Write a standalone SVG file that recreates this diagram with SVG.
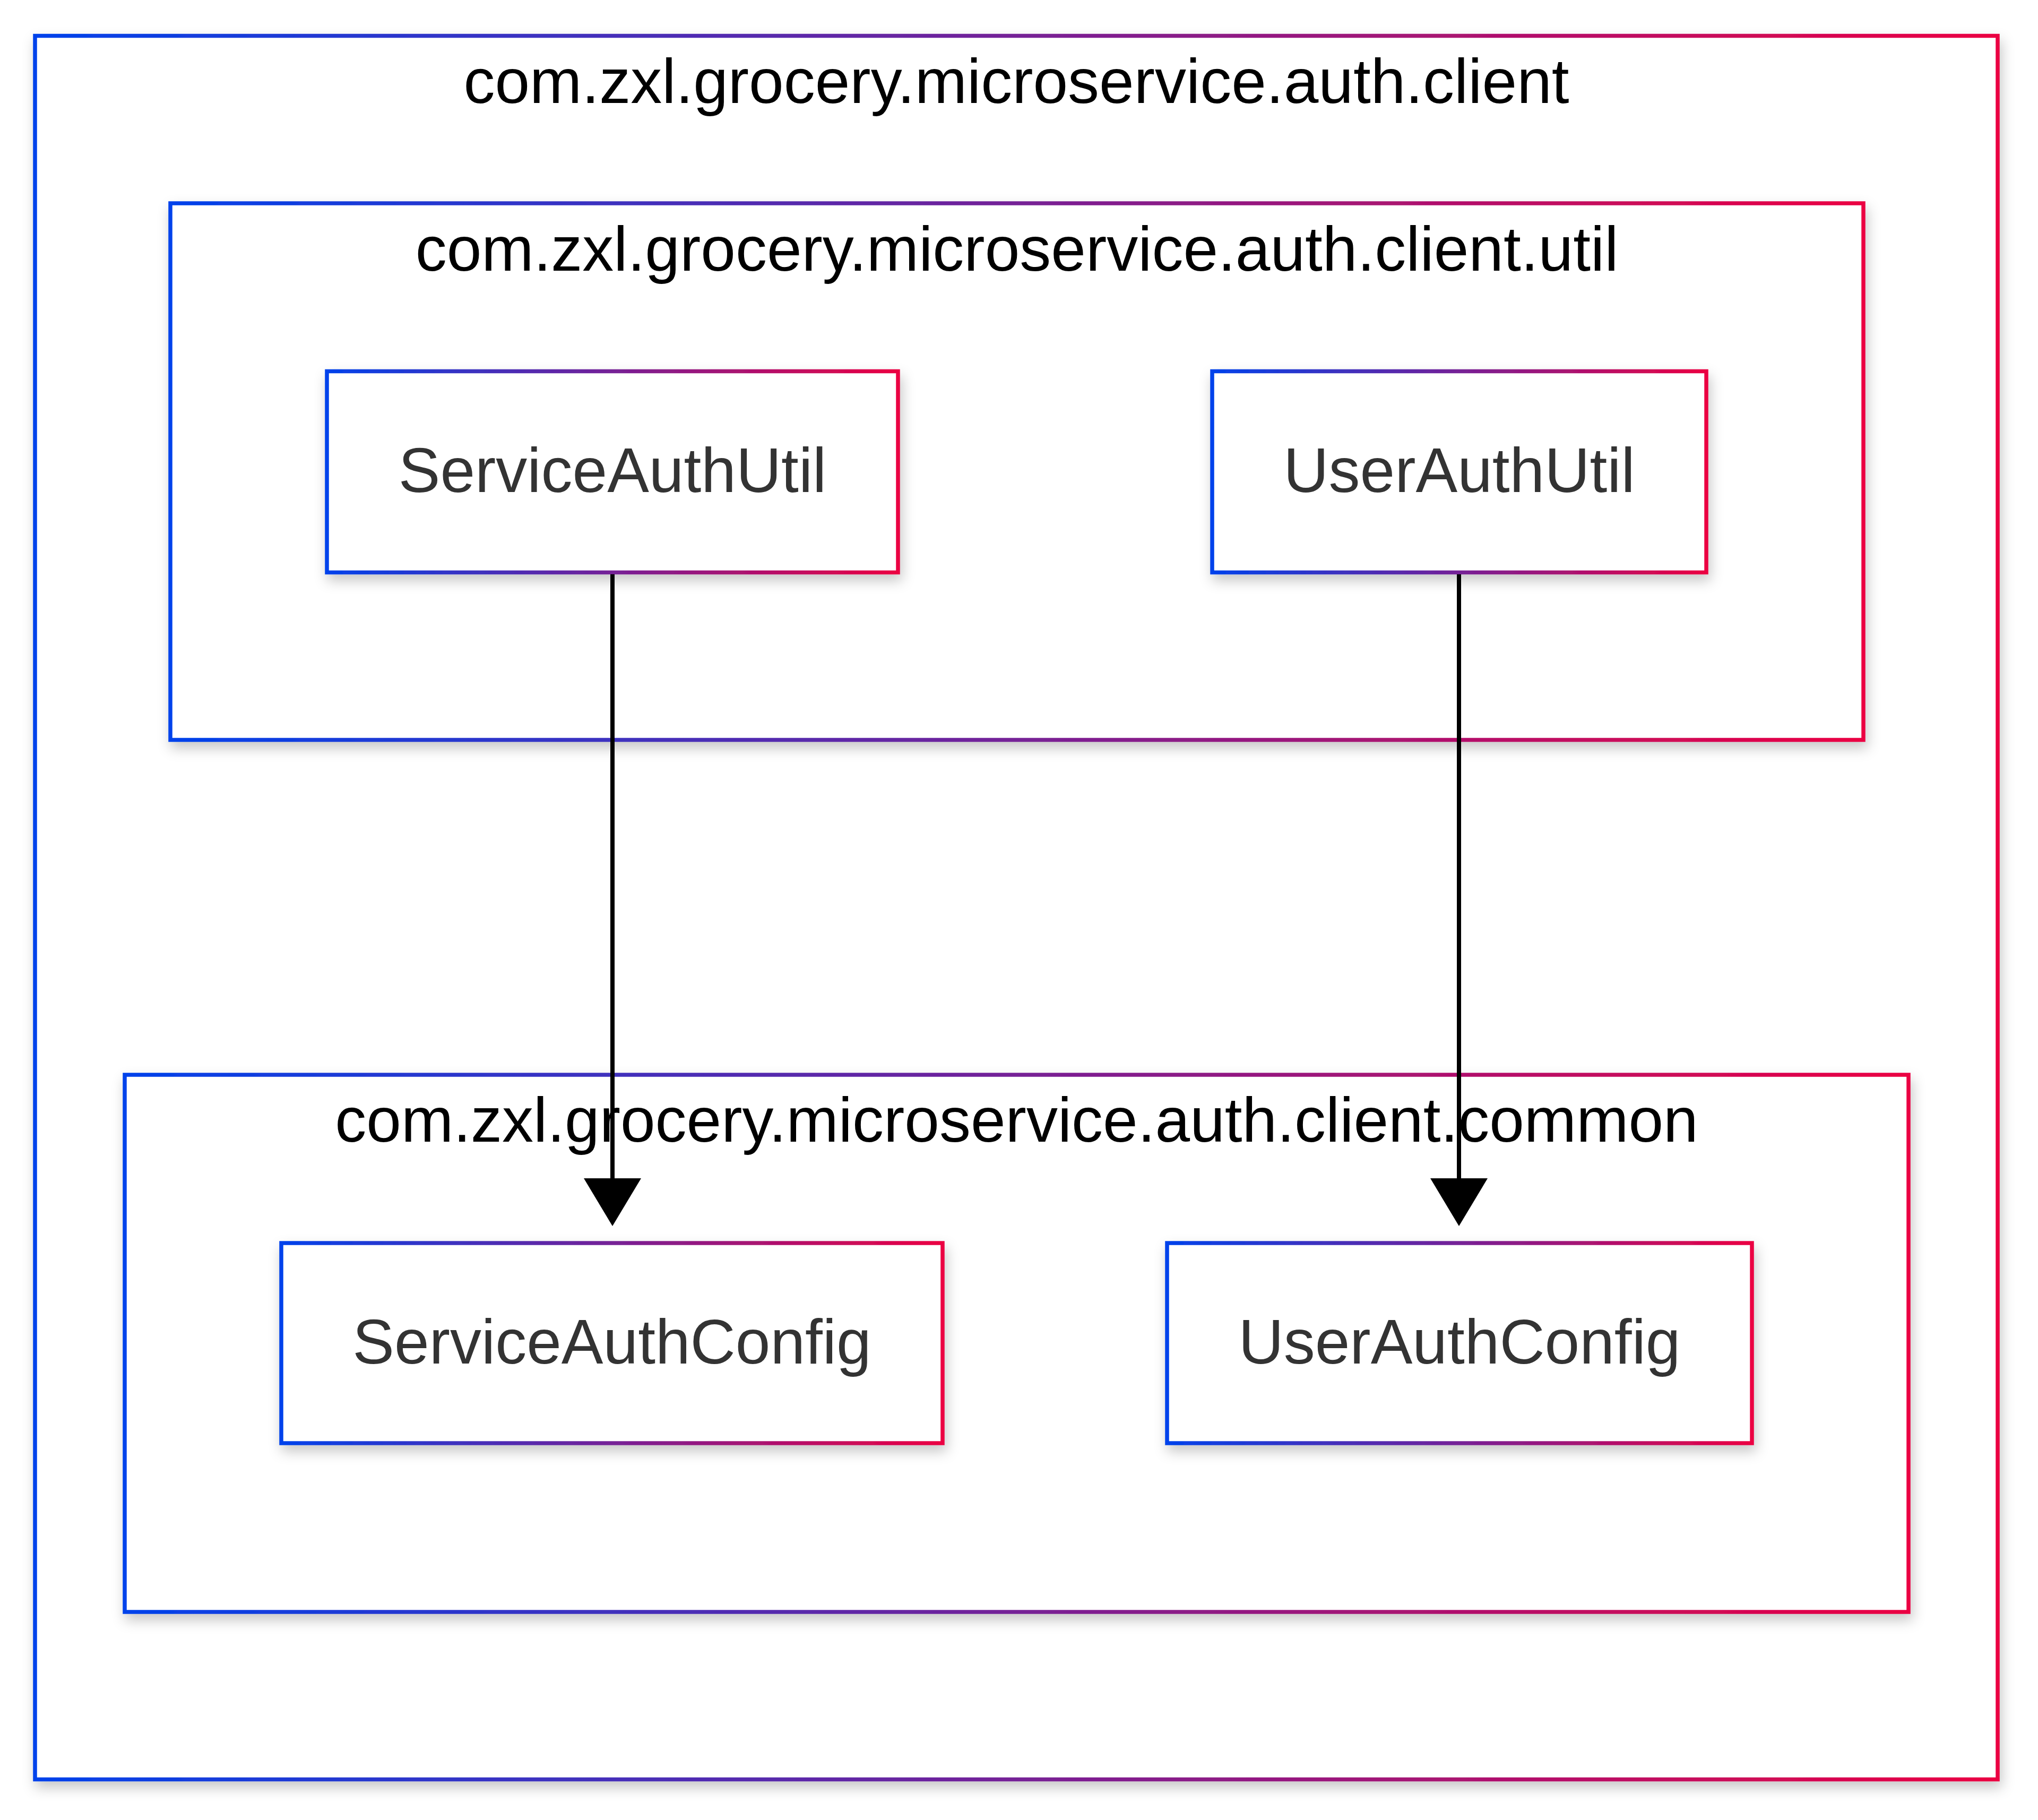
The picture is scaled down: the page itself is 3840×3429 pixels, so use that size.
<svg xmlns="http://www.w3.org/2000/svg" width="3840" height="3429" viewBox="0 0 3840 3429">
<defs>
<linearGradient id="grad" x1="0" y1="0" x2="1" y2="0">
<stop offset="0" stop-color="#0042eb"/>
<stop offset="1" stop-color="#eb0042"/>
</linearGradient>
<filter id="shadow" x="-10%" y="-10%" width="125%" height="135%">
<feDropShadow dx="4" dy="12" stdDeviation="12" flood-color="#000" flood-opacity="0.22"/>
</filter>
<marker id="arrow" markerUnits="userSpaceOnUse" viewBox="0 0 90 108" refX="0" refY="54" markerWidth="90" markerHeight="108" orient="auto">
<path d="M0,0 L90,54 L0,108 Z" fill="#000"/>
</marker>
</defs>
<style>
.box{fill:#fff;stroke:url(#grad);stroke-width:7.5;filter:url(#shadow);}
.ctitle{font-family:"Liberation Sans",Arial,Helvetica,sans-serif;font-size:118px;fill:#000;text-anchor:middle;}
.nlabel{font-family:"Liberation Sans",Arial,Helvetica,sans-serif;font-size:118px;fill:#333;text-anchor:middle;}
.edge{stroke:#000;stroke-width:8;fill:none;}
</style>
<rect width="3840" height="3429" fill="#fff"/>
<g id="cluster-client">
<rect class="box" x="66" y="67.5" width="3698" height="3285"/>
<text class="ctitle" x="1915" y="194">com.zxl.grocery.microservice.auth.client</text>
</g>
<g id="cluster-util">
<rect class="box" x="321" y="383" width="3190" height="1011"/>
<text class="ctitle" x="1916" y="510">com.zxl.grocery.microservice.auth.client.util</text>
</g>
<g id="cluster-common">
<rect class="box" x="235" y="2025" width="3361" height="1012"/>
<text class="ctitle" x="1915.5" y="2151">com.zxl.grocery.microservice.auth.client.common</text>
</g>
<g id="node-ServiceAuthUtil">
<rect class="box" x="616" y="699.5" width="1076" height="379"/>
<text class="nlabel" x="1154" y="927">ServiceAuthUtil</text>
</g>
<g id="node-UserAuthUtil">
<rect class="box" x="2284" y="699.5" width="931" height="379"/>
<text class="nlabel" x="2749.5" y="927">UserAuthUtil</text>
</g>
<g id="node-ServiceAuthConfig">
<rect class="box" x="530" y="2342" width="1246" height="377"/>
<text class="nlabel" x="1153" y="2569">ServiceAuthConfig</text>
</g>
<g id="node-UserAuthConfig">
<rect class="box" x="2199" y="2342" width="1102" height="377"/>
<text class="nlabel" x="2750" y="2569">UserAuthConfig</text>
</g>
<g id="edges">
<path class="edge" d="M1154,1082 L1154,2220" marker-end="url(#arrow)"/>
<path class="edge" d="M2749,1082 L2749,2220" marker-end="url(#arrow)"/>
</g>
</svg>
